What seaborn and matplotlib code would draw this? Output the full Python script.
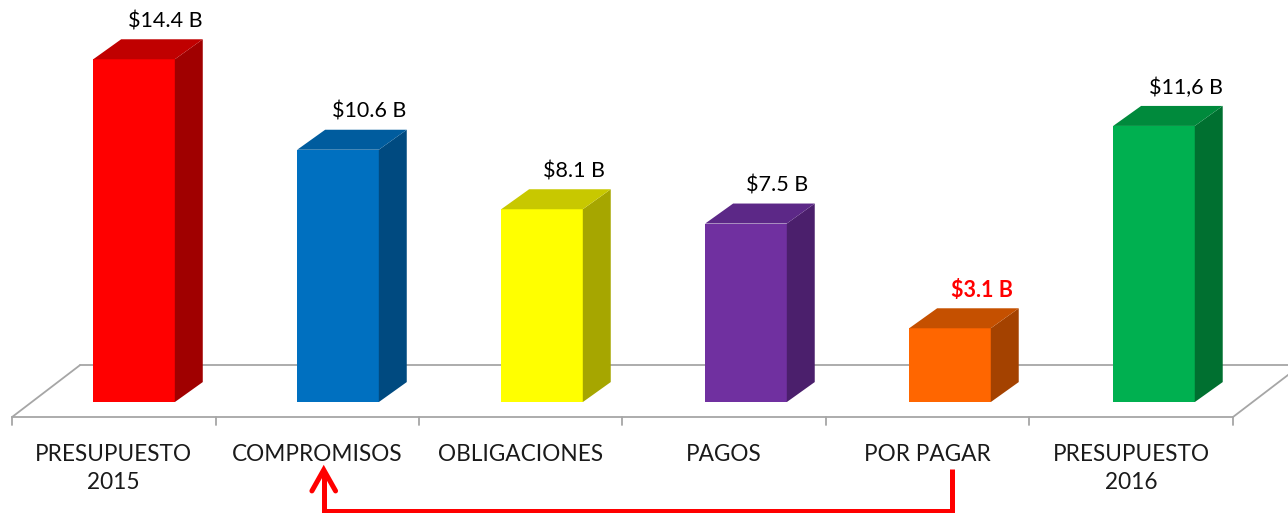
import matplotlib
matplotlib.use("Agg")
import matplotlib.pyplot as plt
import seaborn as sns
from matplotlib.patches import Polygon
from matplotlib.transforms import blended_transform_factory

# Datos (miles de millones)
categorias = ["PRESUPUESTO\n2015", "COMPROMISOS", "OBLIGACIONES", "PAGOS", "POR PAGAR", "PRESUPUESTO\n2016"]
valores = [14.4, 10.6, 8.1, 7.5, 3.1, 11.6]
etiquetas = ["$14.4 B", "$10.6 B", "$8.1 B", "$7.5 B", "$3.1 B", "$11,6 B"]

# Colores: frente, lado, techo
col_frente = ["#FF0000", "#0070C0", "#FFFF00", "#7030A0", "#FF6600", "#00B050"]
col_lado = ["#A00000", "#004A80", "#A6A600", "#4B1F6C", "#A44200", "#007030"]
col_techo = ["#C00000", "#005C9E", "#C8C800", "#5C2887", "#C55000", "#008A3C"]

sns.set_theme(style="white")
plt.rcParams['font.family'] = ['Lato', 'DejaVu Sans']

fig = plt.figure(figsize=(12.88, 5.13), dpi=100)
ax = fig.add_axes([0, 0, 1, 1])

ancho = 0.40
sns.barplot(x=list(range(len(valores))), y=valores, hue=list(range(len(valores))),
            palette=col_frente, legend=False, width=ancho, ax=ax,
            saturation=1, linewidth=0, zorder=3, native_scale=True)

ax.set_xlim(-0.657, 5.657)
ax.set_ylim(-4.66, 16.89)
ax.axis("off")

# profundidad 3D
dx, dy = 0.137, 0.84
piso_frente, piso_fondo = -0.63, 1.55
piso_izq, piso_der = -0.598, 5.387
pdx = 0.333
gris = "#A6A6A6"

# piso
ax.plot([piso_izq, piso_der], [piso_frente, piso_frente], color=gris, lw=1.3, zorder=1)
ax.plot([piso_izq, piso_izq + pdx], [piso_frente, piso_fondo], color=gris, lw=1.3, zorder=1)
ax.plot([piso_der, piso_der + pdx], [piso_frente, piso_fondo], color=gris, lw=1.3, zorder=1)
ax.plot([piso_izq + pdx, piso_der + pdx], [piso_fondo, piso_fondo], color=gris, lw=1.3, zorder=1)
paso = (piso_der - piso_izq) / len(valores)
for k in range(len(valores) + 1):
    xt = piso_izq + k * paso
    ax.plot([xt, xt], [piso_frente, piso_frente - 0.35], color=gris, lw=1.3, zorder=1)

# caras laterales y superiores
for i, v in enumerate(valores):
    x0, x1 = i - ancho / 2, i + ancho / 2
    ax.add_patch(Polygon([(x1, 0), (x1 + dx, dy), (x1 + dx, v + dy), (x1, v)],
                         closed=True, facecolor=col_lado[i], edgecolor="none", zorder=3))
    ax.add_patch(Polygon([(x0, v), (x0 + dx, v + dy), (x1 + dx, v + dy), (x1, v)],
                         closed=True, facecolor=col_techo[i], edgecolor="none", zorder=3))
    es_rojo = i == 4
    ax.text(i + 0.155, v + 1.6, etiquetas[i], ha="center", va="center",
            fontsize=15.5, color="red" if es_rojo else "black",
            fontweight="bold" if es_rojo else "normal", zorder=5)
    # etiqueta de categoria
    xc = piso_izq + (i + 0.5) * paso
    ax.text(xc, -1.75, categorias[i], ha="center", va="top", fontsize=16.3,
            color="#1A1A1A", linespacing=1.45)

# flecha POR PAGAR -> COMPROMISOS
tr = blended_transform_factory(ax.transData, ax.transAxes)
x_desde, x_hasta = 4.01, 0.93
ax.plot([x_desde, x_desde, x_hasta, x_hasta], [0.086, 0.004, 0.004, 0.08], color="red", lw=3.6,
        transform=tr, solid_joinstyle="miter", solid_capstyle="butt", clip_on=False)
ax.plot([x_hasta - 0.058, x_hasta, x_hasta + 0.058], [0.043, 0.084, 0.043], color="red",
        lw=3.6, transform=tr, solid_capstyle="round", solid_joinstyle="miter", clip_on=False)

fig.savefig("out.png", dpi=100)
